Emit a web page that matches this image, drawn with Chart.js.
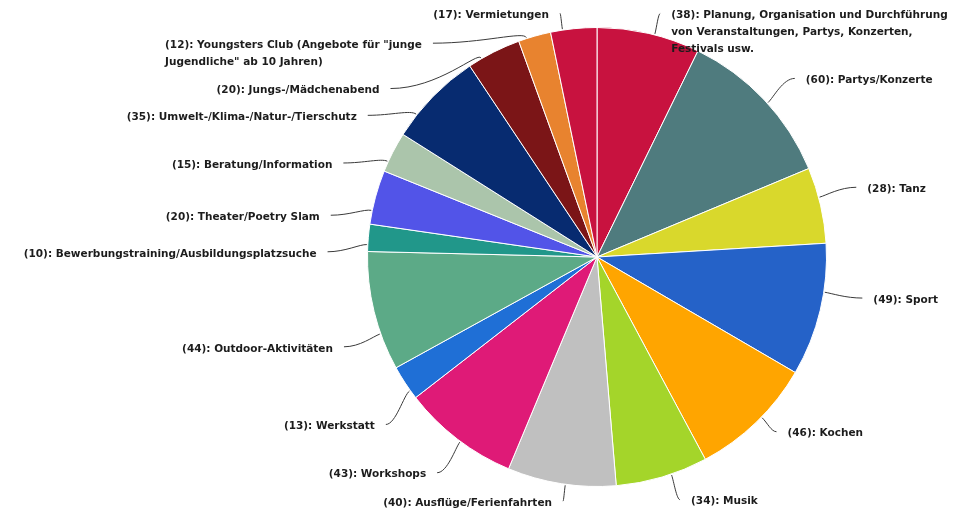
<!DOCTYPE html>
<html lang="de">
<head>
<meta charset="utf-8">
<title>Angebote</title>
<script src="https://cdn.jsdelivr.net/npm/chart.js@4/dist/chart.umd.min.js"></script>
<style>
  html, body { margin: 0; padding: 0; background: #ffffff; }
  #wrap { position: relative; width: 958px; height: 513px; }
</style>
</head>
<body>
<div id="wrap"><canvas id="pie" width="958" height="513"></canvas></div>
<script>
// Angebote (Anzahl der Nennungen), im Uhrzeigersinn ab 12 Uhr
const categories = [
  ["Planung, Organisation und Durchführung", "von Veranstaltungen, Partys, Konzerten,", "Festivals usw."],
  "Partys/Konzerte",
  "Tanz",
  "Sport",
  "Kochen",
  "Musik",
  "Ausflüge/Ferienfahrten",
  "Workshops",
  "Werkstatt",
  "Outdoor-Aktivitäten",
  "Bewerbungstraining/Ausbildungsplatzsuche",
  "Theater/Poetry Slam",
  "Beratung/Information",
  "Umwelt-/Klima-/Natur-/Tierschutz",
  "Jungs-/Mädchenabend",
  ["Youngsters Club (Angebote für \"junge", "Jugendliche\" ab 10 Jahren)"],
  "Vermietungen"
];
const counts = [38, 60, 28, 49, 46, 34, 40, 43, 13, 44, 10, 20, 15, 35, 20, 12, 17];

const sliceColors = [
  "#c8123f", "#4f7b7e", "#d9d82c", "#2562c8", "#ffa500", "#a4d52a",
  "#c0c0c0", "#df1a77", "#1f6fd6", "#5caa87", "#21978a", "#5254e8",
  "#abc5ab", "#072b70", "#7b1517", "#e8832f", "#c8123f"
];

// Beschriftungs-Layout: Winkelverschiebung (Grad) und Abstand zum Kreisrand (px)
const labelShift = [1.5, 1.2, -2.0, -4.6, -1.8, -2.4, -1.0, -0.9, -5.1, -5.8, -3.7, -6.2, -6.8, -12.6, -24.0, -21.7, -2.8];
const labelGap   = [22, 37, 39, 39, 21, 27, 17, 39, 40, 39, 40, 40, 41, 40, 37, 40, 17];

const FONT = "bold 10.5px 'DejaVu Sans', Verdana, sans-serif";
const LINE_H = 17;
const TEXT_GAP = 11;

const calloutLabels = {
  id: "calloutLabels",
  afterDatasetsDraw(chart) {
    const ctx = chart.ctx;
    const meta = chart.getDatasetMeta(0);
    const values = chart.data.datasets[0].data;
    ctx.save();
    ctx.font = FONT;
    ctx.textBaseline = "middle";
    meta.data.forEach((arc, i) => {
      const p = arc.getProps(["x", "y", "startAngle", "endAngle", "outerRadius"], true);
      const span = p.endAngle - p.startAngle;
      const mid = (p.startAngle + p.endAngle) / 2;
      const ang = mid + labelShift[i] * Math.PI / 180;
      const r = p.outerRadius;
      // Ansatzpunkt der Linie: Richtung der Beschriftung, innerhalb des Segments gehalten
      const lo = p.startAngle + span * 0.25, hi = p.endAngle - span * 0.25;
      const ea = Math.min(Math.max(ang, lo), hi);
      const ex = p.x + (r + 1) * Math.cos(ea), ey = p.y + (r + 1) * Math.sin(ea);
      const kx = p.x + (r + 8) * Math.cos(ea), ky = p.y + (r + 8) * Math.sin(ea);
      const lx = p.x + (r + labelGap[i]) * Math.cos(ang), ly = p.y + (r + labelGap[i]) * Math.sin(ang);
      // waagrecht an der Beschriftung, radial am Kreis
      const c1x = lx + (kx - lx) * 0.55, c1y = ly;

      ctx.strokeStyle = "#3a3a3a";
      ctx.lineWidth = 1;
      ctx.beginPath();
      ctx.moveTo(lx, ly);
      ctx.bezierCurveTo(c1x, c1y, kx, ky, ex, ey);
      ctx.stroke();

      const name = categories[i];
      const lines = Array.isArray(name) ? name.slice() : [name];
      lines[0] = "(" + values[i] + "): " + lines[0];
      const widths = lines.map(t => ctx.measureText(t).width);
      const maxW = Math.max(...widths);
      const left = lx >= p.x ? lx + TEXT_GAP : lx - TEXT_GAP - maxW;
      ctx.fillStyle = "#1c1c1c";
      ctx.textAlign = "left";
      lines.forEach((t, j) => ctx.fillText(t, left, ly + 2 + j * LINE_H));
    });
    ctx.restore();
  }
};

new Chart(document.getElementById("pie"), {
  type: "pie",
  data: {
    labels: categories.map(c => Array.isArray(c) ? c.join(" ") : c),
    datasets: [{
      data: counts,
      backgroundColor: sliceColors,
      borderColor: "#ffffff",
      borderWidth: 1
    }]
  },
  options: {
    responsive: false,
    animation: false,
    layout: { padding: { left: 367, right: 131, top: 27, bottom: 26 } },
    plugins: {
      legend: { display: false },
      tooltip: { enabled: false }
    }
  },
  plugins: [calloutLabels]
});
</script>
</body>
</html>
